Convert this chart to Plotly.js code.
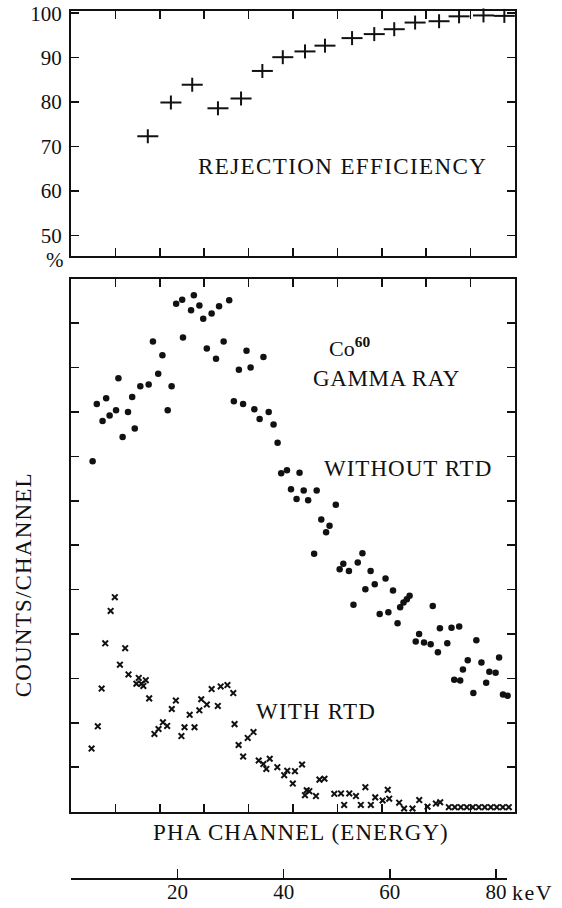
<!DOCTYPE html>
<html>
<head>
<meta charset="utf-8">
<script src="https://cdn.plot.ly/plotly-3.0.1.min.js"></script>
<style>html,body{margin:0;padding:0;background:#fff;}#chart{width:562px;height:908px;}</style>
</head>
<body>
<div id="chart"></div>
<script>
// ---- Rejection efficiency (top panel) ----
const effChannel = [17.3, 22.5, 27.3, 33.1, 38.3, 43.1, 47.7, 52.7, 57.2, 63.3, 68.3, 72.8, 77.5, 82.9, 87.4, 92.9, 97.6];
const effPercent = [72.3, 79.9, 83.9, 78.6, 80.8, 87.0, 90.1, 91.4, 92.7, 94.4, 95.3, 96.4, 97.9, 98.2, 99.3, 99.5, 99.4];

// ---- Counts per channel, without RTD (dots) ----
const withoutChannel = [4.87, 5.81, 7.11, 7.92, 8.70, 10.14, 10.68, 11.63, 12.84, 13.78, 14.36, 15.61, 17.49, 18.45, 19.64, 20.59, 21.78, 22.66, 23.68, 25.04, 25.22, 27.04, 27.67, 28.92, 29.78, 30.59, 31.67, 32.66, 33.35, 34.38, 35.63, 36.68, 37.81, 38.76, 39.53, 40.45, 41.29, 42.48, 43.34, 44.53, 45.62, 46.53, 47.34, 48.64, 49.55, 50.80, 51.47, 52.41, 53.41, 54.76, 55.33, 56.37, 57.46, 58.23, 59.64, 60.51, 61.33, 62.60, 63.62, 64.58, 65.64, 66.30, 67.48, 68.41, 69.52, 70.84, 71.48, 72.52, 73.55, 74.13, 74.89, 75.64, 76.26, 77.64, 78.40, 79.50, 81.01, 81.48, 82.63, 83.08, 84.75, 85.70, 86.31, 87.43, 87.66, 88.27, 89.36, 90.62, 91.29, 92.44, 93.51, 94.22, 95.63, 96.42, 97.30, 98.34];
const withoutCounts = [7.89, 9.18, 8.80, 9.31, 8.92, 9.04, 9.76, 8.44, 9.00, 9.34, 8.63, 9.58, 9.62, 10.59, 9.86, 10.28, 9.04, 9.58, 11.44, 11.53, 10.68, 11.29, 11.63, 11.40, 11.10, 10.43, 11.22, 10.20, 11.38, 10.59, 11.52, 9.24, 9.95, 9.18, 10.38, 10.00, 9.06, 8.84, 10.24, 9.00, 8.72, 8.31, 7.62, 7.69, 7.26, 7.04, 7.63, 7.23, 7.01, 5.81, 7.23, 6.58, 6.29, 6.44, 6.91, 5.46, 5.58, 5.42, 4.66, 5.61, 5.82, 5.01, 5.42, 5.12, 4.45, 5.25, 4.49, 4.98, 4.24, 4.60, 4.71, 4.78, 4.86, 3.83, 4.00, 3.81, 3.77, 4.63, 3.59, 4.13, 3.79, 4.14, 2.97, 4.17, 2.95, 3.20, 3.41, 2.67, 3.86, 3.36, 2.90, 3.15, 3.13, 3.47, 2.64, 2.61];

// ---- Counts per channel, with RTD (crosses) ----
const withChannel = [4.63, 6.04, 6.90, 7.71, 8.93, 9.87, 11.02, 12.20, 12.95, 14.73, 15.26, 15.86, 16.30, 16.84, 17.61, 18.79, 19.71, 20.70, 21.66, 22.70, 23.62, 24.87, 25.57, 26.73, 27.82, 28.91, 29.33, 30.59, 31.68, 33.07, 33.71, 35.23, 36.55, 36.84, 37.75, 38.77, 39.80, 41.10, 42.28, 43.32, 43.99, 44.76, 46.47, 48.02, 48.71, 49.96, 50.44, 52.04, 52.69, 53.09, 53.68, 55.17, 55.96, 57.09, 59.30, 60.81, 61.52, 62.68, 64.18, 65.28, 66.30, 67.53, 68.52, 70.18, 71.34, 71.67, 73.91, 75.02, 76.92, 78.43, 80.30, 82.18, 83.15, 85.1, 86.45, 87.8, 89.15, 90.5, 91.85, 93.2, 94.55, 95.9, 97.25, 98.6];
const withCounts = [1.42, 1.92, 2.77, 3.79, 4.52, 4.83, 3.31, 3.68, 3.09, 2.88, 3.01, 2.88, 2.83, 2.96, 2.55, 1.75, 1.86, 2.01, 1.93, 2.31, 2.50, 1.70, 1.90, 2.18, 1.90, 2.28, 2.53, 2.41, 2.76, 2.38, 2.82, 2.85, 2.67, 1.97, 1.50, 1.24, 1.66, 1.79, 1.15, 1.07, 0.96, 1.19, 1.00, 0.82, 0.92, 0.63, 0.91, 1.06, 0.37, 0.48, 0.46, 0.35, 0.72, 0.74, 0.40, 0.41, 0.15, 0.41, 0.35, 0.15, 0.55, 0.15, 0.32, 0.25, 0.49, 0.29, 0.20, 0.07, 0.07, 0.26, 0.11, 0.18, 0.21, 0.10, 0.10, 0.10, 0.10, 0.10, 0.10, 0.10, 0.10, 0.10, 0.10, 0.10];

// ---- Axis ticks / labels ----
const channelTicks = [10, 20, 30, 40, 50, 60, 70, 80, 90];
const effTicks = [50, 60, 70, 80, 90, 100];
const countTicks = [1, 2, 3, 4, 5, 6, 7, 8, 9, 10, 11];
const energyTicks = [0, 20, 40, 60, 80];
const energyTickText = [' ', '20', '40', '60', '80'];

const FONT = 'Liberation Serif, Times New Roman, serif';
const INK = '#111';
const ls = (t, s) => '<span style="letter-spacing:' + s + 'px">' + t + '</span>';

const frame = {
  showline: true, linewidth: 2, linecolor: INK, mirror: 'ticks',
  ticks: 'inside', ticklen: 8, tickwidth: 1.5, tickcolor: INK,
  showgrid: false, zeroline: false
};

const traces = [
  { x: effChannel, y: effPercent, xaxis: 'x', yaxis: 'y', mode: 'markers', type: 'scatter', hoverinfo: 'skip',
    marker: { symbol: 'line-ew-open', size: 15, color: INK, line: { width: 2, color: INK } }, cliponaxis: false },
  { x: effChannel, y: effPercent, xaxis: 'x', yaxis: 'y', mode: 'markers', type: 'scatter', hoverinfo: 'skip',
    marker: { symbol: 'line-ns-open', size: 10, color: INK, line: { width: 2, color: INK } }, cliponaxis: false },
  { x: withoutChannel, y: withoutCounts, xaxis: 'x2', yaxis: 'y2', mode: 'markers', type: 'scatter',
    marker: { symbol: 'circle', size: 6.5, color: INK, line: { width: 0 } }, cliponaxis: false },
  { x: withChannel, y: withCounts, xaxis: 'x2', yaxis: 'y2', mode: 'markers', type: 'scatter',
    marker: { symbol: 'x-thin-open', size: 5.6, color: INK, line: { width: 2, color: INK } }, cliponaxis: false },
  { x: [], y: [], xaxis: 'x3', yaxis: 'y3', mode: 'markers', type: 'scatter' }
];

const ann = (text, xref, yref, x, y, size, extra) => Object.assign({
  text: text, xref: xref, yref: yref, x: x, y: y, showarrow: false,
  xanchor: 'center', yanchor: 'middle',
  font: { family: FONT, size: size, color: INK }
}, extra || {});

const layout = {
  width: 562, height: 908,
  margin: { l: 71, r: 47, t: 11, b: 30 },
  paper_bgcolor: '#fff', plot_bgcolor: 'rgba(0,0,0,0)',
  showlegend: false,
  font: { family: FONT, color: INK, size: 21 },
  xaxis: Object.assign({}, frame, { domain: [0, 1], anchor: 'y', range: [0, 100], tickvals: channelTicks, showticklabels: false }),
  yaxis: Object.assign({}, frame, { domain: [0.7172, 1], anchor: 'x', range: [45.3, 100.5], tickvals: effTicks,
    tickfont: { family: FONT, size: 21, color: INK }, ticklabelstandoff: 3 }),
  xaxis2: Object.assign({}, frame, { domain: [0, 1], anchor: 'y2', range: [0, 100], tickvals: channelTicks, showticklabels: false }),
  yaxis2: Object.assign({}, frame, { domain: [0.0766, 0.6911], anchor: 'x2', range: [0, 12], tickvals: countTicks, showticklabels: false }),
  xaxis3: { domain: [0.0011, 0.9818], anchor: 'y3', range: [0, 82.06], showline: true, linewidth: 2, linecolor: INK,
    ticks: 'inside', ticklen: 9, tickwidth: 1.5, tickcolor: INK, tickvals: energyTicks, ticktext: energyTickText,
    tickfont: { family: FONT, size: 21, color: INK }, showgrid: false, zeroline: false, ticklabelstandoff: -6 },
  yaxis3: { domain: [0, 0.002], anchor: 'x3', range: [0, 1], visible: false },
  annotations: [
    ann(ls('REJECTION EFFICIENCY', 1.4), 'x', 'y', 61.1, 65.6, 23),
    ann('Co<sup><b>60</b></sup>', 'x2', 'y2', 62.8, 10.47, 22),
    ann(ls('GAMMA RAY', 0.6), 'x2', 'y2', 71.05, 9.76, 23),
    ann(ls('WITHOUT RTD', 1), 'x2', 'y2', 75.97, 7.73, 23),
    ann(ls('WITH RTD', 1.2), 'x2', 'y2', 55.2, 2.26, 23),
    ann(ls('PHA CHANNEL (ENERGY)', 1.1), 'paper', 'paper', 0.5169, 0.0528, 23),
    ann(ls('COUNTS/CHANNEL', 1.2), 'paper', 'paper', -0.1065, 0.3384, 23, { textangle: -90 }),
    ann('%', 'paper', 'paper', -0.036, 0.7129, 21),
    ann(ls('keV', 1.5), 'x3', 'paper', 80, -0.0173, 22, { xanchor: 'left', xshift: 14 })
  ]
};

Plotly.newPlot('chart', traces, layout, { displayModeBar: false, staticPlot: true });
</script>
</body>
</html>
